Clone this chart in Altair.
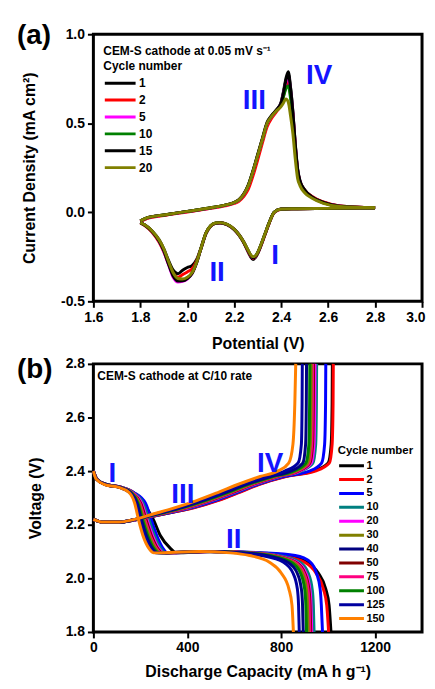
import altair as alt
import pandas as pd

FONT = "Liberation Sans"
NUM_BLUE = "#1414ff"

# ---------------- Panel (a): cyclic voltammetry ----------------
CV_CYCLES = ["1", "2", "5", "10", "15", "20"]
CV_COLORS = ["#000000", "#ff0000", "#ff00ff", "#008000", "#000000", "#808000"]

ANODIC_V = [1.80, 1.83, 1.90, 2.00, 2.10, 2.16, 2.20, 2.22, 2.24, 2.26, 2.28, 2.30, 2.32, 2.34, 2.36,
            2.38, 2.40, 2.41, 2.42, 2.43, 2.44, 2.45, 2.46, 2.47, 2.48, 2.50, 2.53, 2.58, 2.65, 2.80]
ANODIC_I = {
    "1":  [-0.050, -0.032, -0.016, 0.004, 0.024, 0.039, 0.054, 0.068, 0.098, 0.148, 0.228, 0.318, 0.408, 0.495, 0.540,
           0.575, 0.620, 0.680, 0.750, 0.790, 0.700, 0.560, 0.380, 0.240, 0.175, 0.125, 0.088, 0.056, 0.035, 0.025],
    "2":  [-0.052, -0.034, -0.018, 0.002, 0.022, 0.036, 0.050, 0.062, 0.088, 0.130, 0.205, 0.295, 0.390, 0.480, 0.530,
           0.565, 0.605, 0.655, 0.705, 0.730, 0.660, 0.540, 0.370, 0.235, 0.172, 0.125, 0.090, 0.058, 0.036, 0.026],
    "5":  [-0.049, -0.031, -0.016, 0.004, 0.024, 0.039, 0.054, 0.069, 0.099, 0.149, 0.229, 0.320, 0.410, 0.498, 0.540,
           0.572, 0.612, 0.668, 0.730, 0.760, 0.680, 0.550, 0.375, 0.235, 0.172, 0.122, 0.086, 0.054, 0.034, 0.025],
    "10": [-0.048, -0.030, -0.015, 0.005, 0.025, 0.040, 0.055, 0.070, 0.100, 0.152, 0.232, 0.322, 0.412, 0.500, 0.542,
           0.572, 0.605, 0.650, 0.695, 0.710, 0.640, 0.520, 0.355, 0.225, 0.165, 0.118, 0.084, 0.053, 0.033, 0.025],
    "15": [-0.048, -0.030, -0.015, 0.005, 0.025, 0.040, 0.055, 0.071, 0.102, 0.154, 0.234, 0.325, 0.415, 0.505, 0.545,
           0.575, 0.615, 0.672, 0.740, 0.775, 0.695, 0.560, 0.385, 0.245, 0.178, 0.126, 0.088, 0.055, 0.034, 0.025],
    "20": [-0.048, -0.030, -0.015, 0.005, 0.025, 0.040, 0.055, 0.070, 0.100, 0.150, 0.230, 0.320, 0.410, 0.500, 0.540,
           0.570, 0.595, 0.615, 0.637, 0.620, 0.540, 0.440, 0.300, 0.190, 0.150, 0.110, 0.080, 0.050, 0.032, 0.025],
}

CATHODIC_V = [2.80, 2.60, 2.45, 2.40, 2.37, 2.35, 2.33, 2.31, 2.30, 2.29, 2.28, 2.27, 2.26, 2.24, 2.22, 2.20, 2.17,
              2.14, 2.12, 2.10, 2.08, 2.06, 2.04, 2.02, 2.00, 1.98, 1.96, 1.94, 1.92, 1.90, 1.88, 1.85, 1.82, 1.80]
CATHODIC_I = {
    "1":  [0.025, 0.022, 0.020, 0.018, 0.000, -0.056, -0.128, -0.200, -0.232, -0.255, -0.265, -0.250, -0.225, -0.170,
           -0.128, -0.097, -0.070, -0.060, -0.062, -0.078, -0.118, -0.195, -0.265, -0.300, -0.310, -0.325, -0.345,
           -0.325, -0.270, -0.205, -0.155, -0.105, -0.072, -0.058],
    "2":  [0.026, 0.022, 0.020, 0.017, -0.002, -0.058, -0.130, -0.200, -0.230, -0.250, -0.258, -0.246, -0.222, -0.168,
           -0.127, -0.096, -0.069, -0.059, -0.061, -0.077, -0.117, -0.196, -0.272, -0.318, -0.335, -0.350, -0.365,
           -0.345, -0.290, -0.222, -0.168, -0.112, -0.076, -0.060],
    "5":  [0.025, 0.022, 0.020, 0.018, 0.000, -0.055, -0.126, -0.198, -0.228, -0.248, -0.255, -0.243, -0.219, -0.166,
           -0.126, -0.096, -0.069, -0.059, -0.061, -0.076, -0.116, -0.196, -0.282, -0.345, -0.375, -0.388, -0.392,
           -0.365, -0.295, -0.220, -0.163, -0.108, -0.073, -0.058],
    "10": [0.025, 0.022, 0.020, 0.018, 0.001, -0.054, -0.124, -0.195, -0.226, -0.246, -0.252, -0.240, -0.216, -0.165,
           -0.125, -0.095, -0.068, -0.058, -0.060, -0.075, -0.115, -0.195, -0.280, -0.342, -0.370, -0.382, -0.382,
           -0.352, -0.285, -0.212, -0.160, -0.107, -0.073, -0.058],
    "15": [0.025, 0.022, 0.020, 0.018, 0.000, -0.055, -0.126, -0.197, -0.228, -0.248, -0.256, -0.243, -0.219, -0.167,
           -0.126, -0.096, -0.069, -0.059, -0.061, -0.076, -0.116, -0.196, -0.282, -0.344, -0.372, -0.385, -0.386,
           -0.358, -0.290, -0.216, -0.162, -0.108, -0.073, -0.058],
    "20": [0.025, 0.022, 0.020, 0.018, 0.000, -0.055, -0.125, -0.195, -0.225, -0.245, -0.250, -0.238, -0.215, -0.165,
           -0.125, -0.095, -0.068, -0.058, -0.060, -0.075, -0.115, -0.195, -0.280, -0.340, -0.365, -0.375, -0.372,
           -0.340, -0.275, -0.205, -0.155, -0.105, -0.072, -0.058],
}

CV_LABELS = ["IV", "III", "II", "I"]
CV_LABEL_V = [2.562, 2.286, 2.127, 2.374]
CV_LABEL_I = [0.767, 0.625, -0.340, -0.245]
CV_NOTE = ["CEM-S cathode at 0.05 mV s\u207b\u00b9"]
CV_PANEL = ["(a)"]

# ---------------- Panel (b): galvanostatic curves ----------------
GCD_CYCLES = ["1", "2", "5", "10", "20", "30", "40", "50", "75", "100", "125", "150"]
GCD_COLORS = ["#000000", "#ff0000", "#0000ff", "#008080", "#ff00ff", "#808000",
              "#000080", "#800000", "#ff0080", "#008000", "#0000a0", "#ff8000"]
# drawing order (bottom -> top)
GCD_DRAW = ["1", "2", "5", "10", "20", "50", "75", "30", "100", "40", "125", "150"]

DIS_V = [2.40, 2.37, 2.35, 2.34, 2.32, 2.28, 2.22, 2.16, 2.11, 2.095, 2.10, 2.095, 2.085, 2.06, 2.02, 1.96, 1.90, 1.80]
DIS_CAP = {
    "1":   [0, 15, 55, 115, 168, 212, 255, 285, 330, 352, 500, 700, 820, 910, 958, 990, 1004, 1012],
    "2":   [0, 15, 56, 118, 172, 215, 240, 262, 290, 308, 500, 690, 800, 900, 948, 980, 994, 1002],
    "5":   [0, 15, 56, 118, 172, 222, 246, 270, 298, 315, 500, 720, 860, 925, 950, 966, 971, 976],
    "10":  [0, 15, 55, 116, 168, 212, 236, 260, 288, 306, 495, 680, 790, 880, 915, 932, 937, 940],
    "20":  [0, 15, 54, 115, 166, 206, 228, 252, 280, 299, 490, 670, 775, 868, 905, 922, 927, 930],
    "30":  [0, 14, 53, 112, 162, 194, 214, 237, 265, 284, 475, 655, 758, 850, 889, 907, 912, 915],
    "40":  [0, 13, 52, 110, 158, 186, 204, 225, 252, 272, 465, 630, 735, 828, 868, 886, 891, 894],
    "50":  [0, 14, 54, 114, 164, 202, 224, 247, 275, 294, 485, 665, 770, 862, 900, 918, 923, 926],
    "75":  [0, 14, 53, 113, 163, 198, 219, 242, 270, 289, 480, 660, 765, 858, 896, 914, 919, 922],
    "100": [0, 14, 52, 111, 160, 190, 209, 231, 259, 278, 470, 645, 750, 842, 882, 900, 905, 908],
    "125": [0, 13, 51, 108, 156, 182, 199, 219, 246, 266, 460, 615, 715, 810, 850, 869, 874, 877],
    "150": [0, 12, 48, 105, 152, 176, 192, 211, 238, 258, 450, 585, 665, 750, 800, 833, 846, 852],
}

CHG_V = [2.22, 2.21, 2.21, 2.22, 2.24, 2.26, 2.29, 2.32, 2.35, 2.38, 2.40, 2.43, 2.50, 2.65, 2.80]
CHG_CAP = {
    "1":   [0, 40, 120, 190, 300, 410, 525, 615, 700, 815, 935, 1000, 1013, 1017, 1018],
    "2":   [0, 40, 120, 190, 300, 415, 530, 620, 705, 820, 945, 1005, 1017, 1021, 1022],
    "5":   [0, 40, 118, 188, 295, 405, 520, 612, 698, 810, 920, 972, 985, 989, 990],
    "10":  [0, 40, 116, 185, 288, 395, 505, 600, 688, 795, 885, 935, 947, 950, 951],
    "20":  [0, 40, 116, 184, 285, 390, 500, 595, 683, 790, 878, 928, 940, 943, 944],
    "30":  [0, 40, 114, 181, 276, 372, 482, 578, 665, 772, 860, 912, 924, 927, 928],
    "40":  [0, 40, 112, 178, 268, 358, 465, 560, 648, 755, 840, 892, 904, 907, 908],
    "50":  [0, 40, 115, 183, 283, 385, 495, 590, 678, 785, 872, 922, 934, 937, 938],
    "75":  [0, 40, 115, 182, 280, 380, 490, 585, 672, 780, 868, 918, 930, 933, 934],
    "100": [0, 40, 113, 180, 272, 365, 475, 570, 658, 765, 852, 905, 918, 921, 922],
    "125": [0, 40, 111, 177, 263, 350, 455, 552, 630, 740, 815, 872, 886, 889, 890],
    "150": [0, 40, 110, 175, 255, 335, 440, 530, 615, 710, 785, 832, 850, 858, 862],
}

GCD_LABELS = ["I", "III", "IV", "II"]
GCD_LABEL_CAP = [81, 381, 753, 598]
GCD_LABEL_V = [2.39, 2.309, 2.427, 2.143]
GCD_NOTE = ["CEM-S cathode at C/10 rate"]
GCD_PANEL = ["(b)"]

# ---------------- build tables ----------------
rows_a = []
for c in CV_CYCLES:
    for v, i in zip(ANODIC_V, ANODIC_I[c]):
        rows_a.append({"cyc_a": c, "branch": c + "-an", "V": v, "I": i})
    for v, i in zip(CATHODIC_V, CATHODIC_I[c]):
        rows_a.append({"cyc_a": c, "branch": c + "-ca", "V": v, "I": i})
df_a = pd.DataFrame(rows_a)

rows_b = []
for c in GCD_DRAW:
    for q, v in zip(DIS_CAP[c], DIS_V):
        rows_b.append({"cyc_b": c, "branch": c + "-dis", "Q": q, "U": v})
    for q, v in zip(CHG_CAP[c], CHG_V):
        rows_b.append({"cyc_b": c, "branch": c + "-chg", "Q": q, "U": v})
df_b = pd.DataFrame(rows_b)

neg_fmt = "datum.value < 0 ? '-' + format(-datum.value, '.1f') : format(datum.value, '.1f')"

# ---------------- panel (a) ----------------
xa = alt.X("V:Q", scale=alt.Scale(domain=[1.6, 3.0], nice=False, zero=False),
           axis=alt.Axis(values=[1.6, 1.8, 2.0, 2.2, 2.4, 2.6, 2.8, 3.0], format=".1f",
                         labelAlign={"condition": {"test": "datum.value > 2.95", "value": "right"},
                                     "value": "center"},
                         labelOffset={"condition": {"test": "datum.value > 2.95", "value": 3},
                                      "value": 0},
                         title="Potential (V)", titlePadding=12))
ya = alt.Y("I:Q", scale=alt.Scale(domain=[-0.5, 1.0], nice=False, zero=False),
           axis=alt.Axis(values=[-0.5, 0.0, 0.5, 1.0], labelExpr=neg_fmt,
                         title="Current Density (mA cm\u00b2)", titlePadding=23))

cv_lines = alt.Chart(df_a).mark_line(strokeWidth=3, interpolate="monotone").encode(
    x=xa, y=ya,
    color=alt.Color("cyc_a:N", sort=CV_CYCLES,
                    scale=alt.Scale(domain=CV_CYCLES, range=CV_COLORS),
                    legend=alt.Legend(title="Cycle number", orient="none", legendX=10, legendY=27,
                                      symbolType="stroke", symbolSize=961, symbolStrokeWidth=3,
                                      clipHeight=14.7, rowPadding=2, labelOffset=2,
                                      labelFontSize=12, labelFontWeight="bold", labelFont=FONT,
                                      titleFontSize=12, titleFontWeight="bold", titleFont=FONT,
                                      titlePadding=3, padding=0, labelColor="black", titleColor="black")),
    detail="branch:N",
)

cv_nums = alt.Chart(pd.DataFrame({"t": CV_LABELS, "V": CV_LABEL_V, "I": CV_LABEL_I})).mark_text(
    fontSize=28, fontWeight="bold", font=FONT, color=NUM_BLUE, baseline="middle", align="center"
).encode(x="V:Q", y="I:Q", text="t:N")

cv_note = alt.Chart(pd.DataFrame({"t": CV_NOTE})).mark_text(
    fontSize=12, fontWeight="bold", font=FONT, color="black", align="left", baseline="middle"
).encode(x=alt.value(10), y=alt.value(17), text="t:N")

cv_panel = alt.Chart(pd.DataFrame({"t": CV_PANEL})).mark_text(
    fontSize=28, fontWeight="bold", font=FONT, color="black", align="left", baseline="top"
).encode(x=alt.value(-77), y=alt.value(-12), text="t:N")

panel_a = alt.layer(cv_lines, cv_nums, cv_note, cv_panel).properties(width=331, height=269)

# ---------------- panel (b) ----------------
xb = alt.X("Q:Q", scale=alt.Scale(domain=[0, 1400], nice=False, zero=False),
           axis=alt.Axis(values=[0, 400, 800, 1200], format="d",
                         title="Discharge Capacity (mA h g\u207b\u00b9)", titlePadding=9))
yb = alt.Y("U:Q", scale=alt.Scale(domain=[1.8, 2.8], nice=False, zero=False),
           axis=alt.Axis(values=[1.8, 2.0, 2.2, 2.4, 2.6, 2.8], format=".1f",
                         title="Voltage (V)", titlePadding=22))

gcd_lines = alt.Chart(df_b).mark_line(strokeWidth=3, interpolate="monotone").encode(
    x=xb, y=yb,
    color=alt.Color("cyc_b:N", sort=GCD_CYCLES,
                    scale=alt.Scale(domain=GCD_CYCLES, range=GCD_COLORS),
                    legend=alt.Legend(title="Cycle number", orient="none", legendX=246, legendY=82,
                                      symbolType="stroke", symbolSize=625, symbolStrokeWidth=3,
                                      clipHeight=12, rowPadding=2, labelOffset=1,
                                      labelFontSize=11, labelFontWeight="bold", labelFont=FONT,
                                      titleFontSize=11.5, titleFontWeight="bold", titleFont=FONT,
                                      titlePadding=3, padding=0, labelColor="black", titleColor="black")),
    detail="branch:N",
)

gcd_nums = alt.Chart(pd.DataFrame({"t": GCD_LABELS, "Q": GCD_LABEL_CAP, "U": GCD_LABEL_V})).mark_text(
    fontSize=28, fontWeight="bold", font=FONT, color=NUM_BLUE, baseline="middle", align="center"
).encode(x="Q:Q", y="U:Q", text="t:N")

gcd_note = alt.Chart(pd.DataFrame({"t": GCD_NOTE})).mark_text(
    fontSize=12, fontWeight="bold", font=FONT, color="black", align="left", baseline="middle"
).encode(x=alt.value(4), y=alt.value(12), text="t:N")

gcd_panel = alt.Chart(pd.DataFrame({"t": GCD_PANEL})).mark_text(
    fontSize=28, fontWeight="bold", font=FONT, color="black", align="left", baseline="top"
).encode(x=alt.value(-77), y=alt.value(-8), text="t:N")

panel_b = alt.layer(gcd_lines, gcd_nums, gcd_note, gcd_panel).properties(width=331, height=270)

chart = alt.vconcat(panel_a, panel_b, spacing=0).resolve_scale(
    color="independent"
).resolve_legend(color="independent").properties(
    padding={"left": 7, "top": 10, "right": 0, "bottom": 0}
).configure_view(
    stroke="black", strokeWidth=3
).configure_axis(
    domain=False, grid=False, labelFlush=False,
    labelFont=FONT, labelFontSize=14, labelFontWeight="bold", labelColor="black", labelPadding=3,
    titleFont=FONT, titleFontSize=16, titleFontWeight="bold", titleColor="black",
    tickColor="black", tickWidth=2, tickSize=6,
)

chart.save("out.html", embed_options={"renderer": "svg", "actions": False})
